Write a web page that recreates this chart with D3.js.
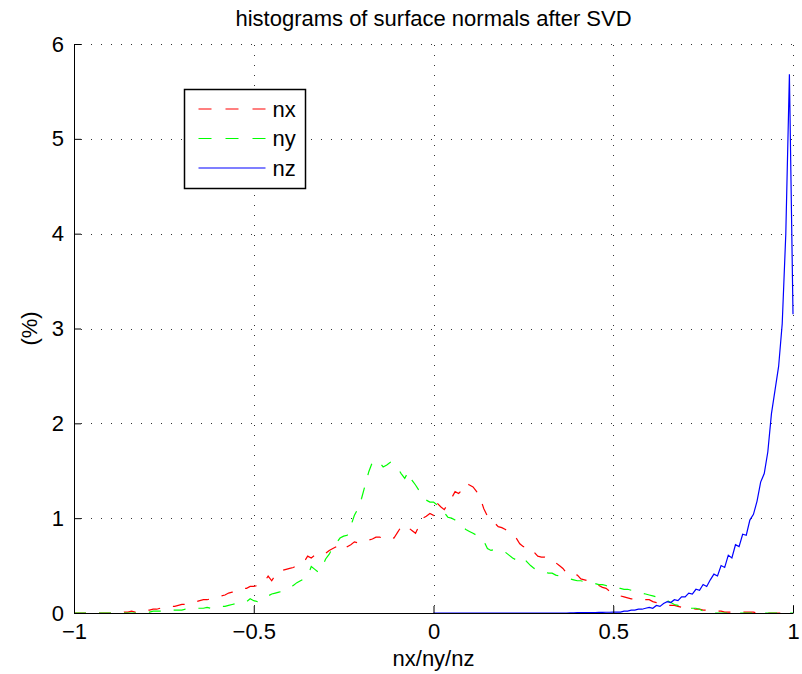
<!DOCTYPE html>
<html>
<head>
<meta charset="utf-8">
<script src="https://cdn.jsdelivr.net/npm/d3@7"></script>
<style>
  body { margin: 0; background: #fff; }
  svg { display: block; font-family: "Liberation Sans", Arial, sans-serif; }
</style>
</head>
<body>
<svg width="802" height="674"></svg>
<script>
const width = 802;
const height = 674;

// bin centres, -1 .. 1 in steps of 0.01
const binsAll = d3.range(-100, 101).map(i => i / 100);
const binsPos = d3.range(0, 101).map(i => i / 100);

const xTicks = [-1, -0.5, 0, 0.5, 1];
const yTicks = [0, 1, 2, 3, 4, 5, 6];

// percent per bin
const nx = [
  0, 0, 0, 0, 0, 0, 0, 0, 0, 0,
  0, 0, 0, 0, 0.01, 0.01, 0.02, 0.01, 0.01, 0.02,
  0.03, 0.03, 0.04, 0.04, 0.05, 0.06, 0.06, 0.07, 0.07, 0.08,
  0.09, 0.09, 0.10, 0.11, 0.12, 0.13, 0.14, 0.14, 0.15, 0.16,
  0.17, 0.18, 0.19, 0.21, 0.22, 0.23, 0.25, 0.26, 0.26, 0.28,
  0.28, 0.29, 0.31, 0.33, 0.39, 0.34, 0.40, 0.44, 0.45, 0.46,
  0.47, 0.48, 0.50, 0.52, 0.54, 0.60, 0.58, 0.61, 0.62, 0.64,
  0.63, 0.66, 0.68, 0.70, 0.68, 0.66, 0.70, 0.72, 0.75, 0.74,
  0.74, 0.75, 0.77, 0.78, 0.80, 0.80, 0.79, 0.78, 0.80, 0.79,
  0.85, 0.91, 0.88, 0.90, 0.87, 0.84, 0.92, 1.00, 1.02, 1.05,
  1.03, 1.16, 1.12, 1.09, 1.15, 1.21, 1.28, 1.26, 1.30, 1.37,
  1.35, 1.33, 1.28, 1.21, 1.10, 1.02, 0.99, 0.95, 0.91, 0.90,
  0.88, 0.85, 0.82, 0.79, 0.73, 0.70, 0.70, 0.69, 0.64, 0.60,
  0.59, 0.59, 0.57, 0.56, 0.53, 0.50, 0.47, 0.42, 0.40, 0.41,
  0.40, 0.36, 0.35, 0.34, 0.32, 0.31, 0.29, 0.27, 0.26, 0.23,
  0.21, 0.19, 0.18, 0.17, 0.16, 0.15, 0.15, 0.15, 0.14, 0.14,
  0.14, 0.12, 0.11, 0.10, 0.09, 0.08, 0.08, 0.08, 0.07, 0.06,
  0.06, 0.05, 0.05, 0.04, 0.04, 0.03, 0.03, 0.03, 0.03, 0.02,
  0.02, 0.01, 0.01, 0.01, 0.01, 0.01, 0.01, 0.01, 0.01, 0.01,
  0, 0, 0, 0, 0, 0, 0, 0, 0, 0,
  0
];

const ny = [
  0, 0, 0, 0, 0, 0, 0, 0, 0, 0,
  0, 0, 0, 0, 0, 0, 0, 0, 0, 0,
  0.01, 0.01, 0.02, 0.02, 0.02, 0.02, 0.02, 0.03, 0.03, 0.03,
  0.03, 0.04, 0.04, 0.04, 0.05, 0.05, 0.05, 0.06, 0.05, 0.06,
  0.06, 0.07, 0.07, 0.08, 0.09, 0.10, 0.10, 0.11, 0.12, 0.15,
  0.13, 0.12, 0.14, 0.16, 0.18, 0.20, 0.21, 0.22, 0.23, 0.25,
  0.27, 0.29, 0.32, 0.34, 0.36, 0.39, 0.49, 0.46, 0.43, 0.48,
  0.57, 0.62, 0.69, 0.74, 0.79, 0.81, 0.82, 0.92, 1.03, 1.10,
  1.21, 1.35, 1.49, 1.59, 1.61, 1.59, 1.54, 1.56, 1.59, 1.55,
  1.53, 1.47, 1.42, 1.49, 1.40, 1.35, 1.29, 1.22, 1.19, 1.17,
  1.17, 1.14, 1.12, 1.06, 1.01, 1.00, 0.98, 0.95, 0.91, 0.88,
  0.86, 0.84, 0.82, 0.79, 0.76, 0.68, 0.66, 0.67, 0.66, 0.65,
  0.64, 0.61, 0.58, 0.56, 0.55, 0.58, 0.54, 0.50, 0.47, 0.46,
  0.45, 0.43, 0.42, 0.42, 0.40, 0.39, 0.38, 0.37, 0.36, 0.35,
  0.34, 0.34, 0.33, 0.32, 0.31, 0.31, 0.30, 0.30, 0.29, 0.27,
  0.26, 0.26, 0.26, 0.25, 0.25, 0.24, 0.23, 0.22, 0.21, 0.20,
  0.19, 0.18, 0.17, 0.16, 0.15, 0.13, 0.11, 0.09, 0.08, 0.06,
  0.06, 0.05, 0.05, 0.05, 0.04, 0.02, 0.01, 0.01, 0, 0,
  0, 0, 0, 0, 0, 0, 0, 0, 0, 0,
  0, 0, 0, 0, 0, 0, 0, 0, 0, 0,
  0
];

// nz only covers 0 .. 1
const nz = [
  0, 0, 0, 0, 0, 0, 0, 0, 0, 0,
  0, 0, 0, 0, 0, 0, 0, 0, 0, 0,
  0, 0, 0, 0, 0, 0, 0, 0, 0, 0,
  0, 0, 0, 0, 0, 0, 0, 0, 0.002, 0.002,
  0.003, 0.003, 0.004, 0.004, 0.005, 0.005, 0.006, 0.006, 0.008, 0.008,
  0.01, 0.01, 0.01, 0.02, 0.02, 0.03, 0.03, 0.04, 0.04, 0.05,
  0.06, 0.05, 0.08, 0.07, 0.10, 0.12, 0.11, 0.14, 0.13, 0.17,
  0.17, 0.21, 0.20, 0.25, 0.24, 0.30, 0.28, 0.35, 0.41, 0.39,
  0.50, 0.48, 0.61, 0.58, 0.72, 0.70, 0.83, 0.82, 0.98, 1.04,
  1.18, 1.38, 1.47, 1.70, 2.10, 2.35, 2.60, 3.05, 4.00, 5.68,
  3.15
];

const series = [
  { name: 'nx', xs: binsAll, ys: nx, color: '#ff0000', dash: '12,13' },
  { name: 'ny', xs: binsAll, ys: ny, color: '#00ff00', dash: '12,13' },
  { name: 'nz', xs: binsPos, ys: nz, color: '#0000ff', dash: null }
];

const margin = { left: 74, right: 9, top: 44, bottom: 61 };

const x = d3.scaleLinear().domain([-1, 1]).range([margin.left, width - margin.right]);
const y = d3.scaleLinear().domain([0, 6]).range([height - margin.bottom, margin.top]);

const svg = d3.select('svg');
const fmt = d3.format('~g');

// dotted grid
const grid = svg.append('g')
  .attr('stroke', '#333')
  .attr('stroke-width', 1)
  .attr('stroke-dasharray', '1,9')
  .attr('shape-rendering', 'crispEdges');

grid.selectAll('line.gx')
  .data(xTicks.slice(1))
  .join('line')
    .attr('class', 'gx')
    .attr('x1', d => Math.round(x(d)) + 0.5)
    .attr('x2', d => Math.round(x(d)) + 0.5)
    .attr('y1', y(0) - 7)
    .attr('y2', y(6));

grid.selectAll('line.gy')
  .data(yTicks.slice(1))
  .join('line')
    .attr('class', 'gy')
    .attr('y1', d => Math.round(y(d)) + 0.5)
    .attr('y2', d => Math.round(y(d)) + 0.5)
    .attr('x1', x(-1) + 7)
    .attr('x2', x(1));

// data lines
const line = d3.line()
  .x(d => x(d[0]))
  .y(d => y(d[1]));

svg.append('g')
  .attr('fill', 'none')
  .selectAll('path')
  .data(series)
  .join('path')
    .attr('d', s => line(s.xs.map((v, i) => [v, s.ys[i]])))
    .attr('stroke', s => s.color)
    .attr('stroke-width', 1.2)
    .attr('stroke-dasharray', s => s.dash);

// axes (ticks point inward, box off)
const xAxis = svg.append('g')
  .attr('transform', `translate(0,${y(0)})`)
  .call(d3.axisBottom(x).tickValues(xTicks).tickFormat(fmt)
    .tickSizeInner(-7).tickSizeOuter(0).tickPadding(10));

const yAxis = svg.append('g')
  .attr('transform', `translate(${x(-1)},0)`)
  .call(d3.axisLeft(y).tickValues(yTicks).tickFormat(fmt)
    .tickSizeInner(-7).tickSizeOuter(0).tickPadding(10));

[xAxis, yAxis].forEach(g => {
  g.selectAll('text')
    .attr('font-family', '"Liberation Sans", Arial, sans-serif')
    .attr('font-size', 22)
    .attr('fill', '#000');
  g.selectAll('line, path').attr('stroke', '#000');
});

// title and axis labels
svg.append('text')
  .attr('x', x(0))
  .attr('y', 26)
  .attr('text-anchor', 'middle')
  .attr('font-size', 22)
  .text('histograms of surface normals after SVD');

svg.append('text')
  .attr('x', x(0))
  .attr('y', 666)
  .attr('text-anchor', 'middle')
  .attr('font-size', 22)
  .text('nx/ny/nz');

svg.append('text')
  .attr('transform', `translate(37,${(y(0) + y(6)) / 2}) rotate(-90)`)
  .attr('text-anchor', 'middle')
  .attr('font-size', 22)
  .text('(%)');

// legend
const legend = svg.append('g').attr('transform', 'translate(184.5,89.5)');

legend.append('rect')
  .attr('width', 121)
  .attr('height', 99)
  .attr('fill', '#fff')
  .attr('stroke', '#000')
  .attr('stroke-width', 1.5);

const item = legend.selectAll('g.item')
  .data(series)
  .join('g')
    .attr('class', 'item')
    .attr('transform', (d, i) => `translate(0,${19.5 + i * 29.5})`);

item.append('line')
  .attr('x1', 14)
  .attr('x2', 81)
  .attr('stroke', d => d.color)
  .attr('stroke-width', 1.2)
  .attr('stroke-dasharray', d => d.dash ? '13,14' : null);

item.append('text')
  .attr('x', 88)
  .attr('dy', '0.35em')
  .attr('font-size', 22)
  .text(d => d.name);
</script>
</body>
</html>
